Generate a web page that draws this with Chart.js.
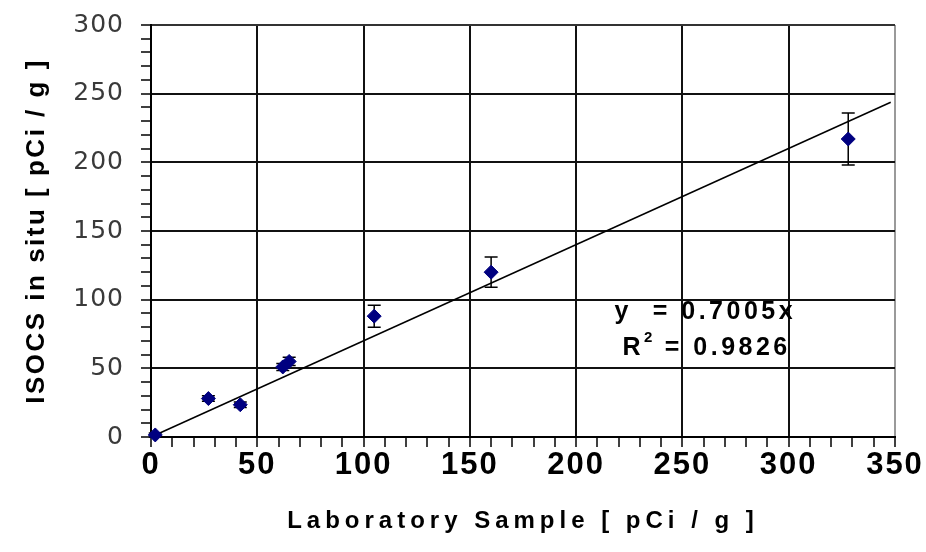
<!DOCTYPE html>
<html>
<head>
<meta charset="utf-8">
<script src="https://cdn.jsdelivr.net/npm/chart.js@4.4.1/dist/chart.umd.min.js"></script>
<style>
  html, body { margin: 0; padding: 0; background: #fff; }
  #c { display: block; }
</style>
</head>
<body>
<canvas id="c" width="926" height="552"></canvas>
<script>
// Laboratory result vs. ISOCS in-situ result, pCi/g
const labSample = [2, 27, 42, 62, 65, 105, 160, 328];
const insitu    = [1.5, 28, 23.5, 51, 55, 88, 120, 217];
const insituErr = [1.5, 2, 2, 2.5, 3, 8, 11, 19];

// Linear fit through the origin
const fitSlope = 0.7005;
const fitR2 = 0.9826;
const fitRange = [0, 348];

// Axis ranges and tick spacing
const xMax = 350, yMax = 300;
const tickStep = 10, majorStep = 50;

const xTitle = 'Laboratory Sample [ pCi / g ]';
const yTitle = 'ISOCS in situ [ pCi / g ]';

const isMajor = v => Math.abs(v % majorStep) < 1e-9;

function gridColor(edgeValue, edgeColor) {
  return c => {
    const v = c.tick ? c.tick.value : 0;
    if (!isMajor(v)) return 'rgba(0,0,0,0)';
    if (v === edgeValue) return edgeColor;
    return '#111';
  };
}

// Per-axis letter spacing for tick labels and titles
const letterSpacingPlugin = {
  id: 'letterSpacing',
  beforeDraw(chart, args, opts) {
    Object.keys(opts).forEach(id => {
      const scale = chart.scales[id];
      if (!scale || scale.__spaced) return;
      scale.__spaced = true;
      const wrap = (name, value) => {
        const orig = scale[name];
        scale[name] = function (...a) {
          const ctx = this.ctx;
          const prev = ctx.letterSpacing || '0px';
          ctx.letterSpacing = value;
          orig.apply(this, a);
          ctx.letterSpacing = prev;
        };
      };
      wrap('drawLabels', opts[id].labels);
      wrap('drawTitle', opts[id].title);
    });
  }
};

// Vertical error bars with caps, drawn just under the markers
const errorBarPlugin = {
  id: 'errorBars',
  beforeDatasetDraw(chart, args) {
    if (args.index !== 0) return;
    const { ctx, scales: { x, y } } = chart;
    const cap = 6.5;
    ctx.save();
    ctx.strokeStyle = '#000';
    ctx.lineWidth = 1.5;
    labSample.forEach((v, i) => {
      const px = x.getPixelForValue(v);
      const top = y.getPixelForValue(insitu[i] + insituErr[i]);
      const bot = y.getPixelForValue(insitu[i] - insituErr[i]);
      ctx.beginPath();
      ctx.moveTo(px, top); ctx.lineTo(px, bot);
      ctx.moveTo(px - cap, top); ctx.lineTo(px + cap, top);
      ctx.moveTo(px - cap, bot); ctx.lineTo(px + cap, bot);
      ctx.stroke();
    });
    ctx.restore();
  }
};

// Fit equation and R² label
const fitLabelPlugin = {
  id: 'fitLabel',
  afterDraw(chart, args, opts) {
    const { ctx, scales: { x, y } } = chart;
    const left = x.getPixelForValue(opts.x);
    const y1 = y.getPixelForValue(opts.y1);
    const y2 = y.getPixelForValue(opts.y2);
    const big = 'bold 25px "Liberation Sans", Arial, sans-serif';
    const small = 'bold 15px "Liberation Sans", Arial, sans-serif';
    ctx.save();
    ctx.fillStyle = '#000';
    ctx.textBaseline = 'middle';
    ctx.textAlign = 'left';
    ctx.font = big;
    ctx.letterSpacing = '3.5px';
    ctx.fillText('y  = ' + fitSlope.toFixed(4) + 'x', left, y1);

    let cx = left + 8;
    ctx.fillText('R', cx, y2);
    cx += ctx.measureText('R').width;
    ctx.font = small;
    ctx.letterSpacing = '2px';
    ctx.fillText('2', cx, y2 - 10);
    cx += ctx.measureText('2').width;
    ctx.font = big;
    ctx.letterSpacing = '3.5px';
    ctx.fillText(' = ' + fitR2.toFixed(4), cx, y2);
    ctx.restore();
  }
};

new Chart(document.getElementById('c'), {
  data: {
    datasets: [
      {
        type: 'scatter',
        data: labSample.map((v, i) => ({ x: v, y: insitu[i] })),
        pointStyle: 'rectRot',
        pointRadius: 7,
        backgroundColor: '#000080',
        borderColor: '#000080',
        borderWidth: 1,
        clip: false
      },
      {
        type: 'line',
        data: fitRange.map(v => ({ x: v, y: fitSlope * v })),
        borderColor: '#000',
        borderWidth: 1.5,
        pointRadius: 0,
        fill: false,
        clip: false
      }
    ]
  },
  options: {
    responsive: false,
    animation: false,
    devicePixelRatio: 1,
    layout: { padding: { top: 25, right: 31, left: 0, bottom: 0 } },
    plugins: {
      legend: { display: false },
      tooltip: { enabled: false },
      letterSpacing: {
        x: { labels: '2px', title: '5px' },
        y: { labels: '1px', title: '2.5px' }
      },
      fitLabel: { x: 218, y1: 91.2, y2: 64.8 }
    },
    scales: {
      x: {
        type: 'linear',
        min: 0,
        max: xMax,
        afterFit(s) { s.height = 115; s.paddingLeft = 0; s.paddingRight = 0; },
        ticks: {
          stepSize: tickStep,
          autoSkip: false,
          maxRotation: 0,
          minRotation: 0,
          padding: 0,
          color: '#000',
          font: { family: '"Liberation Sans", Arial, sans-serif', size: 31, weight: 'bold' },
          callback: v => isMajor(v) ? String(v) : ''
        },
        grid: {
          color: gridColor(xMax, '#9a9a9a'),
          lineWidth: 2,
          tickColor: '#000',
          tickLength: 10,
          tickWidth: 1.5
        },
        border: { color: '#000', width: 2 },
        title: {
          display: true,
          text: xTitle,
          color: '#000',
          font: { family: '"Liberation Sans", Arial, sans-serif', size: 24, weight: 'bold' },
          padding: { top: 0, bottom: 16 }
        }
      },
      y: {
        type: 'linear',
        min: 0,
        max: yMax,
        afterFit(s) { s.width = 151; s.paddingTop = 0; s.paddingBottom = 0; },
        ticks: {
          stepSize: tickStep,
          autoSkip: false,
          padding: 17,
          color: '#3a3a3a',
          font: { family: '"DejaVu Sans", sans-serif', size: 25 },
          callback: v => isMajor(v) ? String(v) : ''
        },
        grid: {
          color: gridColor(yMax, '#333'),
          lineWidth: 2,
          tickColor: '#000',
          tickLength: 10,
          tickWidth: 1.5
        },
        border: { color: '#000', width: 2 },
        title: {
          display: true,
          text: yTitle,
          color: '#000',
          font: { family: '"Liberation Sans", Arial, sans-serif', size: 26, weight: 'bold' },
          padding: { top: 21, bottom: 0 }
        }
      }
    }
  },
  plugins: [letterSpacingPlugin, errorBarPlugin, fitLabelPlugin]
});
</script>
</body>
</html>
